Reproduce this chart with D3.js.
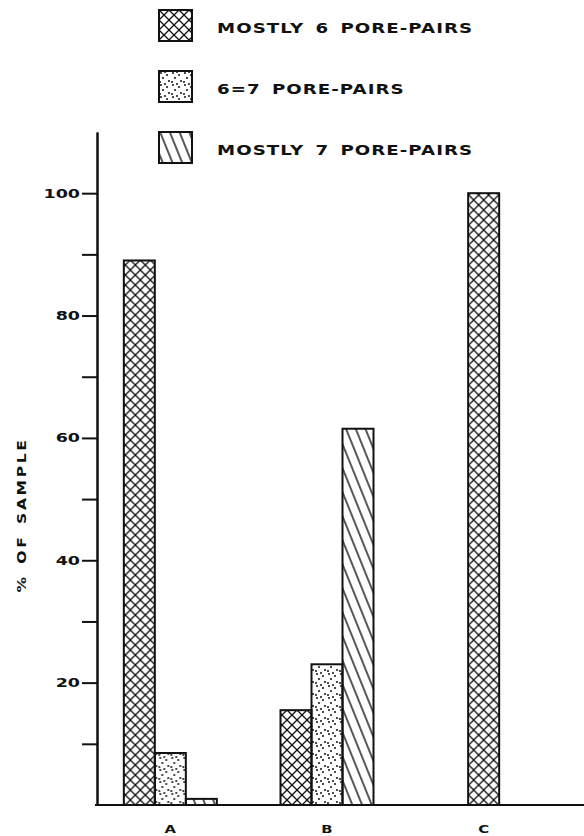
<!DOCTYPE html>
<html>
<head>
<meta charset="utf-8">
<script src="https://cdn.jsdelivr.net/npm/d3@7"></script>
<style>
  body { margin: 0; background: #fff; }
  text { font-family: "DejaVu Sans", sans-serif; font-weight: bold; fill: #111; }
  .axis path, .axis line { stroke: #111; stroke-width: 2; }
  .axis text { font-size: 12.5px; }
</style>
</head>
<body>
<script>
// bar chart of pore-pair counts per sample, three patterned series

// categories and series
var categories = ["A", "B", "C"];
var seriesNames = ["MOSTLY 6 PORE-PAIRS", "6=7 PORE-PAIRS", "MOSTLY 7 PORE-PAIRS"];
var seriesKeys = ["mostly6", "mixed", "mostly7"];

// values (% of sample)
var mostly6 = [89, 15.5, 100];
var mixed67 = [8.5, 23, 0];
var mostly7 = [1, 61.5, 0];

// tick values
var majorTicks = [20, 40, 60, 80, 100];
var minorTicks = [10, 30, 50, 70, 90];

window.onload = function(){

    var width = 584;
    var height = 836;

    // the lettering on the original is an extended face, so text gets stretched
    var stretch = 1.3;

    var svg = d3.select("body")
      .append("svg")
        .attr("width", width)
        .attr("height", height);

    // patterns for the bars
    var defs = svg.append("defs");

    var cross = defs.append("pattern")
        .attr("id", "mostly6")
        .attr("patternUnits", "userSpaceOnUse")
        .attr("width", 10)
        .attr("height", 10);
    cross.append("path")
        .attr("d", "M0,0L10,10M10,0L0,10M-1,9L1,11M9,-1L11,1")
        .attr("stroke", "#111")
        .attr("stroke-width", 1.3);

    var dots = defs.append("pattern")
        .attr("id", "mixed")
        .attr("patternUnits", "userSpaceOnUse")
        .attr("width", 12)
        .attr("height", 12);
    [[2, 2], [8, 4], [4, 7], [10, 10], [1, 11], [6, 1]].forEach(function(p) {
      dots.append("circle")
          .attr("cx", p[0])
          .attr("cy", p[1])
          .attr("r", 1)
          .attr("fill", "#111");
    });

    var hatch = defs.append("pattern")
        .attr("id", "mostly7")
        .attr("patternUnits", "userSpaceOnUse")
        .attr("width", 9)
        .attr("height", 9)
        .attr("patternTransform", "rotate(-22)");
    hatch.append("line")
        .attr("x1", 1).attr("y1", -1)
        .attr("x2", 1).attr("y2", 10)
        .attr("stroke", "#111")
        .attr("stroke-width", 1.4);

    // scales
    var yscale = d3.scaleLinear()
      .domain([0, 110])
      .range([805, 132]);

    var xscale = d3.scaleBand()
      .domain(categories)
      .range([92, 562])
      .padding(0);

    var barWidth = 31;

    // build rows per category, leaving out empty series
    var data = categories.map(function(c, i) {
      return {
        cat: c,
        values: [
          { key: "mostly6", value: mostly6[i] },
          { key: "mixed", value: mixed67[i] },
          { key: "mostly7", value: mostly7[i] }
        ].filter(function(d) { return d.value > 0; })
      };
    });

    // bars
    var group = svg.selectAll("g.cat")
      .data(data)
      .enter().append("g")
        .attr("class", "cat")
        .attr("transform", function(d) {
          return "translate(" + (xscale(d.cat) + xscale.bandwidth() / 2) + ",0)";
        });

    group.each(function(d) {
      var inner = d3.scaleBand()
        .domain(d.values.map(function(v) { return v.key; }))
        .range([-barWidth * d.values.length / 2, barWidth * d.values.length / 2]);

      d3.select(this).selectAll("rect")
        .data(d.values)
        .enter().append("rect")
          .attr("x", function(v) { return inner(v.key); })
          .attr("width", inner.bandwidth())
          .attr("y", function(v) { return yscale(v.value); })
          .attr("height", function(v) { return yscale(0) - yscale(v.value); })
          .attr("fill", function(v) { return "url(#" + v.key + ")"; })
          .attr("stroke", "#111")
          .attr("stroke-width", 2);
    });

    // minor ticks
    svg.append("g")
      .attr("class", "axis")
      .attr("transform", "translate(97,0)")
      .call(d3.axisLeft(yscale).tickValues(minorTicks).tickSize(15).tickSizeOuter(0).tickFormat(""));

    // y axis with labels
    var yAxis = svg.append("g")
      .attr("class", "axis")
      .attr("transform", "translate(97,0)")
      .call(d3.axisLeft(yscale).tickValues(majorTicks).tickSize(15).tickSizeOuter(0).tickPadding(3));

    yAxis.selectAll(".tick text")
      .attr("x", null)
      .attr("transform", "translate(-17,0) scale(1.4,1)");

    // base line
    svg.append("line")
      .attr("x1", 95)
      .attr("x2", width)
      .attr("y1", yscale(0))
      .attr("y2", yscale(0))
      .attr("stroke", "#111")
      .attr("stroke-width", 2);

    // category labels
    svg.selectAll("text.cat")
      .data(categories)
      .enter().append("text")
        .attr("class", "cat")
        .attr("transform", function(d) {
          return "translate(" + (xscale(d) + xscale.bandwidth() / 2) + ",833) scale(1.35,1)";
        })
        .attr("text-anchor", "middle")
        .style("font-size", "11px")
        .text(function(d) { return d; });

    // y label
    svg.append("text")
      .attr("transform", "translate(26,515) rotate(-90) scale(" + stretch + ",1)")
      .attr("text-anchor", "middle")
      .style("font-size", "12px")
      .style("letter-spacing", "2px")
      .style("word-spacing", "2px")
      .text("% OF SAMPLE");

    // legend
    var legendTop = [10, 71, 132];
    var legend = svg.selectAll(".legend")
      .data(seriesKeys)
      .enter().append("g")
        .attr("class", "legend")
        .attr("transform", function(d, i) { return "translate(159," + legendTop[i] + ")"; });

    legend.append("rect")
      .attr("width", 33)
      .attr("height", 31)
      .attr("fill", function(d) { return "url(#" + d + ")"; })
      .attr("stroke", "#111")
      .attr("stroke-width", 2);

    legend.append("text")
      .attr("transform", "translate(58,23) scale(" + stretch + ",1)")
      .style("font-size", "14px")
      .style("letter-spacing", "0.8px")
      .style("word-spacing", "3px")
      .text(function(d, i) { return seriesNames[i]; });
};
</script>
</body>
</html>
